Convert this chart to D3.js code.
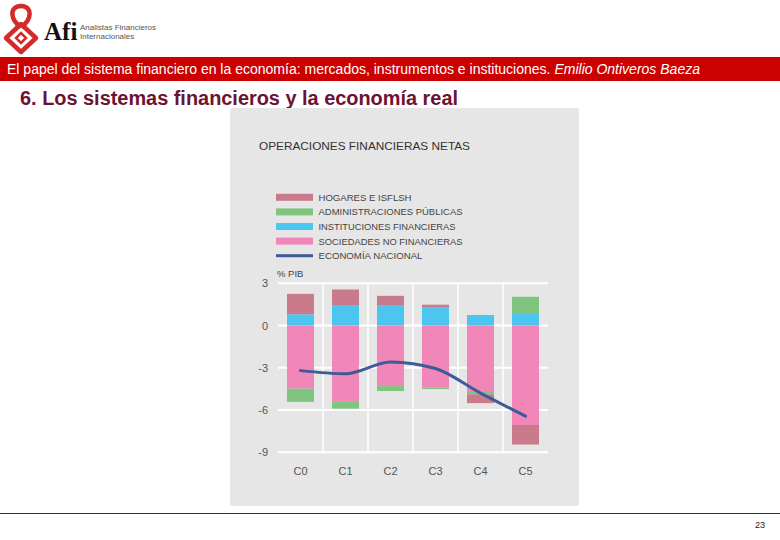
<!DOCTYPE html>
<html>
<head>
<meta charset="utf-8">
<script src="https://cdn.jsdelivr.net/npm/d3@7"></script>
<style>
  html, body { margin: 0; padding: 0; background: #ffffff; }
  svg { display: block; }
</style>
</head>
<body>
<script>
// ---- data ----
const categories = ["C0", "C1", "C2", "C3", "C4", "C5"];
const hogares = [1.45, 1.15, 0.7, 0.21, -0.63, -1.39];
const administraciones = [-0.94, -0.53, -0.35, -0.1, -0.23, 1.22];
const instituciones = [0.8, 1.41, 1.41, 1.27, 0.75, 0.82];
const sociedades = [-4.48, -5.37, -4.3, -4.41, -4.65, -7.06];
const economiaNacional = [-3.2, -3.42, -2.58, -3.05, -4.8, -6.43];
const yTicks = [3, 0, -3, -6, -9];
const legendLabels = ["HOGARES E ISFLSH", "ADMINISTRACIONES PÚBLICAS", "INSTITUCIONES FINANCIERAS", "SOCIEDADES NO FINANCIERAS", "ECONOMÍA NACIONAL"];

const colors = { hog: "#c97a8b", adm: "#7fc47f", inst: "#4cc5ef", soc: "#f187b9", line: "#3b5c98" };

const W = 780, H = 540;
const svg = d3.select("body").append("svg").attr("width", W).attr("height", H);

// ---- header ----
const logo = svg.append("g");
logo.append("path").attr("d", "M21,27 C10,20 9,6 21,6 C33,6 32,20 21,27").attr("fill", "none").attr("stroke", "#d42a2a").attr("stroke-width", 4.5);
logo.append("path").attr("d", "M21,24 L36,38 L21,52 L6,38 Z").attr("fill", "none").attr("stroke", "#d42a2a").attr("stroke-width", 4.5).attr("stroke-linejoin", "round");
logo.append("path").attr("d", "M21,33 L26,38 L21,43 L16,38 Z").attr("fill", "none").attr("stroke", "#d42a2a").attr("stroke-width", 2.5);
svg.append("text").attr("x", 44).attr("y", 40).attr("font-family", "Liberation Serif, DejaVu Serif, serif").attr("font-weight", "bold").attr("font-size", 25).attr("fill", "#111").text("Afi");
svg.append("text").attr("x", 80).attr("y", 30).attr("font-family", "Liberation Sans, Arial, sans-serif").attr("font-size", 8).attr("fill", "#555").text("Analistas Financieros");
svg.append("text").attr("x", 80).attr("y", 39).attr("font-family", "Liberation Sans, Arial, sans-serif").attr("font-size", 8).attr("fill", "#555").text("Internacionales");

svg.append("rect").attr("x", 0).attr("y", 57).attr("width", W).attr("height", 24).attr("fill", "#cc0000");
const band = svg.append("text").attr("x", 7).attr("y", 74).attr("font-family", "Liberation Sans, Arial, sans-serif").attr("font-size", 14).attr("fill", "#ffffff")
  .attr("textLength", 693).attr("lengthAdjust", "spacingAndGlyphs");
band.append("tspan").text("El papel del sistema financiero en la economía: mercados, instrumentos e instituciones. ");
band.append("tspan").attr("font-style", "italic").text("Emilio Ontiveros Baeza");

svg.append("text").attr("x", 20).attr("y", 105).attr("font-family", "Liberation Sans Narrow, Liberation Sans, Arial, sans-serif").attr("font-weight", "bold").attr("font-size", 20)
  .attr("textLength", 438).attr("lengthAdjust", "spacingAndGlyphs").attr("fill", "#6e1232").text("6. Los sistemas financieros y la economía real");

// ---- panel ----
svg.append("rect").attr("x", 230).attr("y", 108).attr("width", 349).attr("height", 398).attr("rx", 2).attr("fill", "#e6e6e6");

const font = "Liberation Sans, Arial, sans-serif";
svg.append("text").attr("x", 259).attr("y", 149.5).attr("font-family", font).attr("font-size", 11.5).attr("fill", "#333").attr("textLength", 211).attr("lengthAdjust", "spacingAndGlyphs").text("OPERACIONES FINANCIERAS NETAS");

// legend
const legendColors = [colors.hog, colors.adm, colors.inst, colors.soc, colors.line];
const legendWidths = [93, 144, 137, 144, 104];
legendLabels.forEach((lab, i) => {
  const cy = 197.3 + i * 14.6;
  const isLine = i === 4;
  svg.append("rect").attr("x", 276).attr("y", cy - (isLine ? 1.5 : 3.5)).attr("width", 37).attr("height", isLine ? 3 : 7).attr("fill", legendColors[i]);
  svg.append("text").attr("x", 318.5).attr("y", cy + 3.4).attr("font-family", font).attr("font-size", 9.5).attr("fill", "#444")
    .attr("textLength", legendWidths[i]).attr("lengthAdjust", "spacingAndGlyphs").text(lab);
});

// scales
const y = d3.scaleLinear().domain([-9, 3]).range([452.3, 283.3]);
const x = d3.scaleBand().domain(categories).range([278, 548]).paddingInner(0.4).paddingOuter(0.2);
const step = x.step();

// gridlines
const grid = svg.append("g");
yTicks.forEach(t => {
  grid.append("line").attr("x1", 278).attr("x2", 548).attr("y1", y(t)).attr("y2", y(t)).attr("stroke", "#ffffff").attr("stroke-width", 2);
});
categories.slice(1).forEach(c => {
  const gx = x(c) - step * x.paddingInner() / 2;
  grid.append("line").attr("x1", gx).attr("x2", gx).attr("y1", y(3)).attr("y2", y(-9)).attr("stroke", "#ffffff").attr("stroke-width", 1.5);
});

// stacked bars
const rows = categories.map((c, i) => ({ cat: c, inst: instituciones[i], soc: sociedades[i], adm: administraciones[i], hog: hogares[i] }));
const keys = ["inst", "soc", "adm", "hog"];
const stack = d3.stack().keys(keys).offset(d3.stackOffsetDiverging)(rows);
svg.append("g").selectAll("g").data(stack).join("g").attr("fill", d => colors[d.key])
  .selectAll("rect").data(d => d).join("rect")
  .attr("x", d => x(d.data.cat))
  .attr("width", x.bandwidth())
  .attr("y", d => y(Math.max(d[0], d[1])))
  .attr("height", d => Math.abs(y(d[0]) - y(d[1])));

// line
const line = d3.line().x((d, i) => x(categories[i]) + x.bandwidth() / 2).y(d => y(d)).curve(d3.curveMonotoneX);
svg.append("path").datum(economiaNacional).attr("d", line).attr("fill", "none").attr("stroke", colors.line).attr("stroke-width", 3).attr("stroke-linecap", "round");

// y axis labels
const yAxis = svg.append("g").attr("transform", "translate(268,0)").call(d3.axisLeft(y).tickValues(yTicks).tickSize(0).tickPadding(0).tickFormat(d => String(d)));
yAxis.select(".domain").remove();
yAxis.selectAll("text").attr("font-family", font).attr("font-size", 11).attr("fill", "#555");
svg.append("text").attr("x", 277).attr("y", 276.5).attr("font-family", font).attr("font-size", 9.5).attr("fill", "#444").text("% PIB");

// x axis labels
const xAxis = svg.append("g").attr("transform", "translate(0,467)").call(d3.axisBottom(x).tickSize(0).tickPadding(0));
xAxis.select(".domain").remove();
xAxis.selectAll("text").attr("font-family", font).attr("font-size", 11).attr("fill", "#555");

// footer
svg.append("line").attr("x1", 0).attr("x2", W).attr("y1", 513.5).attr("y2", 513.5).attr("stroke", "#8b0a0a").attr("stroke-width", 1.2);
svg.append("text").attr("x", 760).attr("y", 528).attr("text-anchor", "middle").attr("font-family", font).attr("font-size", 9).attr("fill", "#222").text("23");
</script>
</body>
</html>
